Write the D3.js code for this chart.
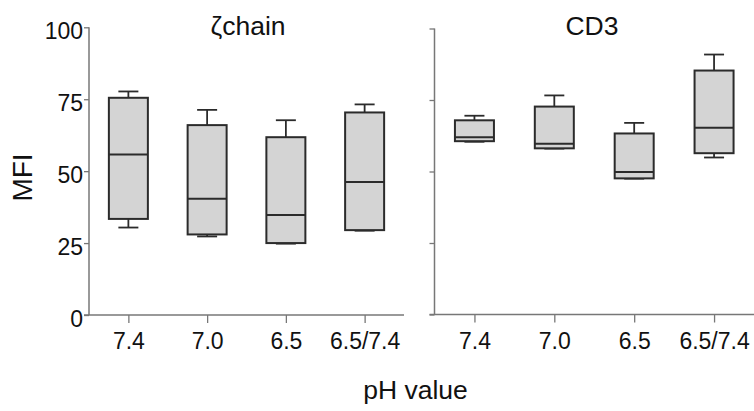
<!DOCTYPE html>
<html>
<head>
<meta charset="utf-8">
<script src="https://cdn.jsdelivr.net/npm/d3@7"></script>
<style>
  html, body { margin: 0; padding: 0; background: #fff; }
  svg { display: block; font-family: "Liberation Sans", Arial, Helvetica, sans-serif; }
</style>
</head>
<body>
<svg id="chart" width="754" height="411"></svg>
<script>
// ---- data ----
const categories = ["7.4", "7.0", "6.5", "6.5/7.4"];
const yTicks = [0, 25, 50, 75, 100];

const zetaMin    = [30.4, 27.3, 24.8, 29.3];
const zetaQ1     = [33.4, 28.0, 25.0, 29.5];
const zetaMedian = [55.8, 40.4, 34.8, 46.2];
const zetaQ3     = [75.5, 66.0, 61.8, 70.4];
const zetaMax    = [77.7, 71.3, 67.7, 73.2];

const cd3Min    = [60.4, 58.0, 47.5, 54.9];
const cd3Q1     = [60.6, 58.1, 47.6, 56.4];
const cd3Median = [62.0, 59.7, 49.8, 65.3];
const cd3Q3     = [67.9, 72.7, 63.3, 85.3];
const cd3Max    = [69.5, 76.6, 67.0, 90.9];

const panels = [
  { title: "ζchain", min: zetaMin, q1: zetaQ1, med: zetaMedian, q3: zetaQ3, max: zetaMax,
    x0: 89, x1: 404, yBottom: 315, yTop: 27.3, labels: true, titleX: 248 },
  { title: "CD3", min: cd3Min, q1: cd3Q1, med: cd3Median, q3: cd3Q3, max: cd3Max,
    x0: 434.5, x1: 754, yBottom: 314.5, yTop: 28.5, labels: false, titleX: 592 }
];

const svg = d3.select("#chart");
const axisColor = "#777";
const boxStroke = "#2b2b2b";
const boxFill = "#d4d4d4";
const boxW = 39, capW = 20;

panels.forEach(p => {
  const x = d3.scalePoint().domain(categories).range([p.x0, p.x1]).padding(0.5);
  const y = d3.scaleLinear().domain([0, 100]).range([p.yBottom, p.yTop]);
  const g = svg.append("g");

  // y axis
  const ya = g.append("g").attr("transform", `translate(${p.x0},0)`)
    .call(d3.axisLeft(y).tickValues(yTicks).tickSize(5).tickPadding(1)
      .tickFormat(p.labels ? d3.format("d") : () => ""));
  ya.select(".domain").remove();
  ya.append("line").attr("x1", 0).attr("x2", 0).attr("y1", y(0)).attr("y2", y(100))
    .attr("stroke", axisColor).attr("stroke-width", 1.5);
  ya.selectAll(".tick line").attr("stroke", axisColor).attr("stroke-width", 1.3);
  ya.selectAll(".tick text").attr("font-size", 23).attr("fill", "#111")
    .attr("font-family", "Liberation Sans, Arial, sans-serif")
    .attr("x", -6).attr("dy", "0.5em");

  // x axis
  const xa = g.append("g").attr("transform", `translate(0,${y(0)})`)
    .call(d3.axisBottom(x).tickSize(8).tickSizeOuter(0));
  xa.select(".domain").remove();
  xa.append("line").attr("x1", p.x0 - 5).attr("x2", p.x1).attr("y1", 0).attr("y2", 0)
    .attr("stroke", axisColor).attr("stroke-width", 1.5);
  xa.selectAll(".tick line").attr("stroke", axisColor).attr("stroke-width", 1.3);
  xa.selectAll(".tick text").attr("font-size", 23).attr("fill", "#111")
    .attr("font-family", "Liberation Sans, Arial, sans-serif")
    .attr("dy", null).attr("y", 34);

  // boxes
  const data = categories.map((c, i) => ({ c, min: p.min[i], q1: p.q1[i], med: p.med[i], q3: p.q3[i], max: p.max[i] }));
  const b = g.selectAll(".box").data(data).join("g").attr("class", "box");
  // upper whisker
  b.append("line").attr("x1", d => x(d.c)).attr("x2", d => x(d.c))
    .attr("y1", d => y(d.q3)).attr("y2", d => y(d.max))
    .attr("stroke", boxStroke).attr("stroke-width", 1.8);
  b.append("line").attr("x1", d => x(d.c) - capW / 2).attr("x2", d => x(d.c) + capW / 2)
    .attr("y1", d => y(d.max)).attr("y2", d => y(d.max))
    .attr("stroke", boxStroke).attr("stroke-width", 1.8);
  // lower whisker
  b.append("line").attr("x1", d => x(d.c)).attr("x2", d => x(d.c))
    .attr("y1", d => y(d.q1)).attr("y2", d => y(d.min))
    .attr("stroke", boxStroke).attr("stroke-width", 1.8);
  b.append("line").attr("x1", d => x(d.c) - capW / 2).attr("x2", d => x(d.c) + capW / 2)
    .attr("y1", d => y(d.min)).attr("y2", d => y(d.min))
    .attr("stroke", boxStroke).attr("stroke-width", 1.8);
  // box
  b.append("rect").attr("x", d => x(d.c) - boxW / 2).attr("width", boxW)
    .attr("y", d => y(d.q3)).attr("height", d => y(d.q1) - y(d.q3))
    .attr("fill", boxFill).attr("stroke", boxStroke).attr("stroke-width", 2);
  // median
  b.append("line").attr("x1", d => x(d.c) - boxW / 2).attr("x2", d => x(d.c) + boxW / 2)
    .attr("y1", d => y(d.med)).attr("y2", d => y(d.med))
    .attr("stroke", boxStroke).attr("stroke-width", 2);

  // title
  g.append("text").attr("x", p.titleX).attr("y", 35).attr("text-anchor", "middle")
    .attr("font-size", 26.5).attr("fill", "#111").text(p.title);
});

// axis titles
svg.append("text").attr("transform", "translate(31.5,177.5) rotate(-90)")
  .attr("text-anchor", "middle").attr("font-size", 28).attr("fill", "#111").text("MFI");
svg.append("text").attr("x", 415.5).attr("y", 399).attr("text-anchor", "middle")
  .attr("font-size", 26.5).attr("fill", "#111").text("pH value");
</script>
</body>
</html>
